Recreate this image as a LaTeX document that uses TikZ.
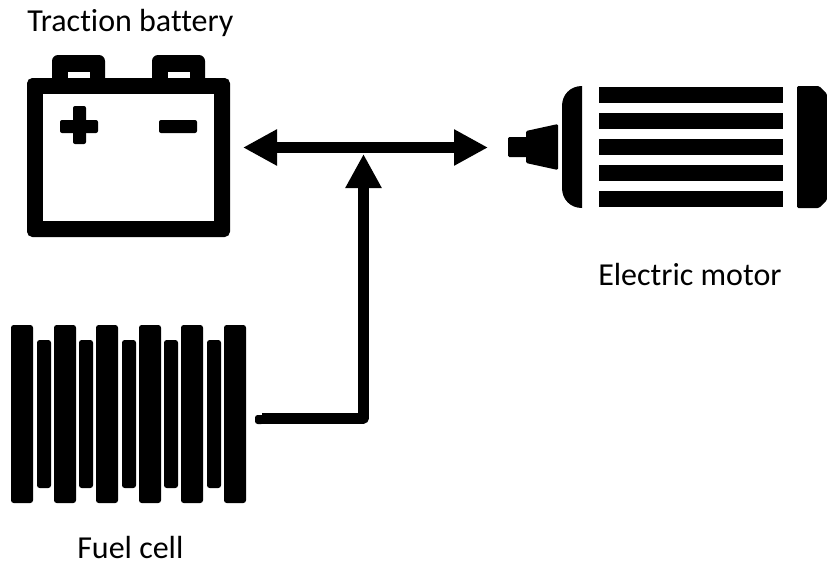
\documentclass[tikz,border=0pt]{standalone}
\usepackage{fontspec}
\setmainfont[Ligatures=NoCommon]{Carlito}
\usetikzlibrary{arrows.meta}
\tikzset{
	solid part/.style={fill=black,draw=none},
	hole part/.style={fill=white,draw=none},
	power line/.style={draw=black,line width=8.25pt,line join=round},
	label text/.style={anchor=base west,inner sep=0pt,font=\fontsize{24pt}{28pt}\selectfont},
}
\begin{document}
\begin{tikzpicture}[x=0.75pt,y=0.75pt,yscale=-1,xscale=1]
	\useasboundingbox (0,0) rectangle (827,565);
	
	%Battery body
	\path [solid part,rounded corners=4.5pt] (52,55) rectangle (105,90);
	\path [solid part,rounded corners=4.5pt] (152,55) rectangle (205,90);
	\path [solid part,rounded corners=4pt] (27,78) rectangle (230,237);
	\path [hole part] (43,94) rectangle (214,221);
	\path [hole part] (68,72) rectangle (90,78);
	\path [hole part] (168,72) rectangle (190,78);
	%Plus and minus
	\path [solid part,rounded corners=1.5pt] (60,120) rectangle (98,133);
	\path [solid part,rounded corners=1.5pt] (73,106) rectangle (86,144);
	\path [solid part,rounded corners=1.5pt] (159,120) rectangle (197,133);
	
	%Motor shaft and cone
	\path [solid part,rounded corners=1pt] (508,137) rectangle (528,157);
	\path [solid part,rounded corners=1pt] (526,131) -- (558,124) -- (558,170) -- (526,163) -- cycle;
	%Motor end caps
	\path [solid part] (582,86) .. controls (570,86) and (562,95) .. (562,106) -- (562,188) .. controls (562,199) and (570,208) .. (582,208) -- cycle;
	\path [solid part,rounded corners=1pt] (797,86) -- (819,86) -- (827,94) -- (827,200) -- (819,208) -- (797,208) -- cycle;
	%Motor windings
	\path [solid part] (599,87) rectangle (783,103);
	\path [solid part] (599,113) rectangle (783,129);
	\path [solid part] (599,139) rectangle (783,155);
	\path [solid part] (599,165) rectangle (783,181);
	\path [solid part] (599,191) rectangle (783,207);
	
	%Fuel cell plates
	\path [solid part,rounded corners=2pt] (11,325) rectangle (33,503);
	\path [solid part,rounded corners=2pt] (54,325) rectangle (76,503);
	\path [solid part,rounded corners=2pt] (96,325) rectangle (118,503);
	\path [solid part,rounded corners=2pt] (139,325) rectangle (161,503);
	\path [solid part,rounded corners=2pt] (181,325) rectangle (203,503);
	\path [solid part,rounded corners=2pt] (224,325) rectangle (246,503);
	\path [solid part,rounded corners=2pt] (37,340) rectangle (51,488);
	\path [solid part,rounded corners=2pt] (79,340) rectangle (93,488);
	\path [solid part,rounded corners=2pt] (122,340) rectangle (136,488);
	\path [solid part,rounded corners=2pt] (164,340) rectangle (178,488);
	\path [solid part,rounded corners=2pt] (207,340) rectangle (221,488);
	
	%Connectors
	\coordinate (batteryend) at (243,147.5);
	\coordinate (motorend) at (488,147.5);
	\coordinate (cellend) at (262,418);
	\coordinate (busend) at (363.5,154);
	\draw [power line,{Triangle[length=25.5pt,width=25.5pt]}-{Triangle[length=25.5pt,width=25.5pt]}] (batteryend) -- (motorend);
	\draw [power line,-{Triangle[length=25.5pt,width=25.5pt]}] (cellend) -| (busend);
	\path [solid part,rounded corners=2pt] (255,415) -- (264,415) -- (264,424) -- (255,424) -- cycle;
	
	% Text Node
	\node (batterylabel) [label text] at (27,31) {Traction battery};
	% Text Node
	\node (motorlabel) [label text] at (598,285.5) {Electric motor};
	% Text Node
	\node (celllabel) [label text] at (77,558) {Fuel cell};
\end{tikzpicture}
\end{document}
